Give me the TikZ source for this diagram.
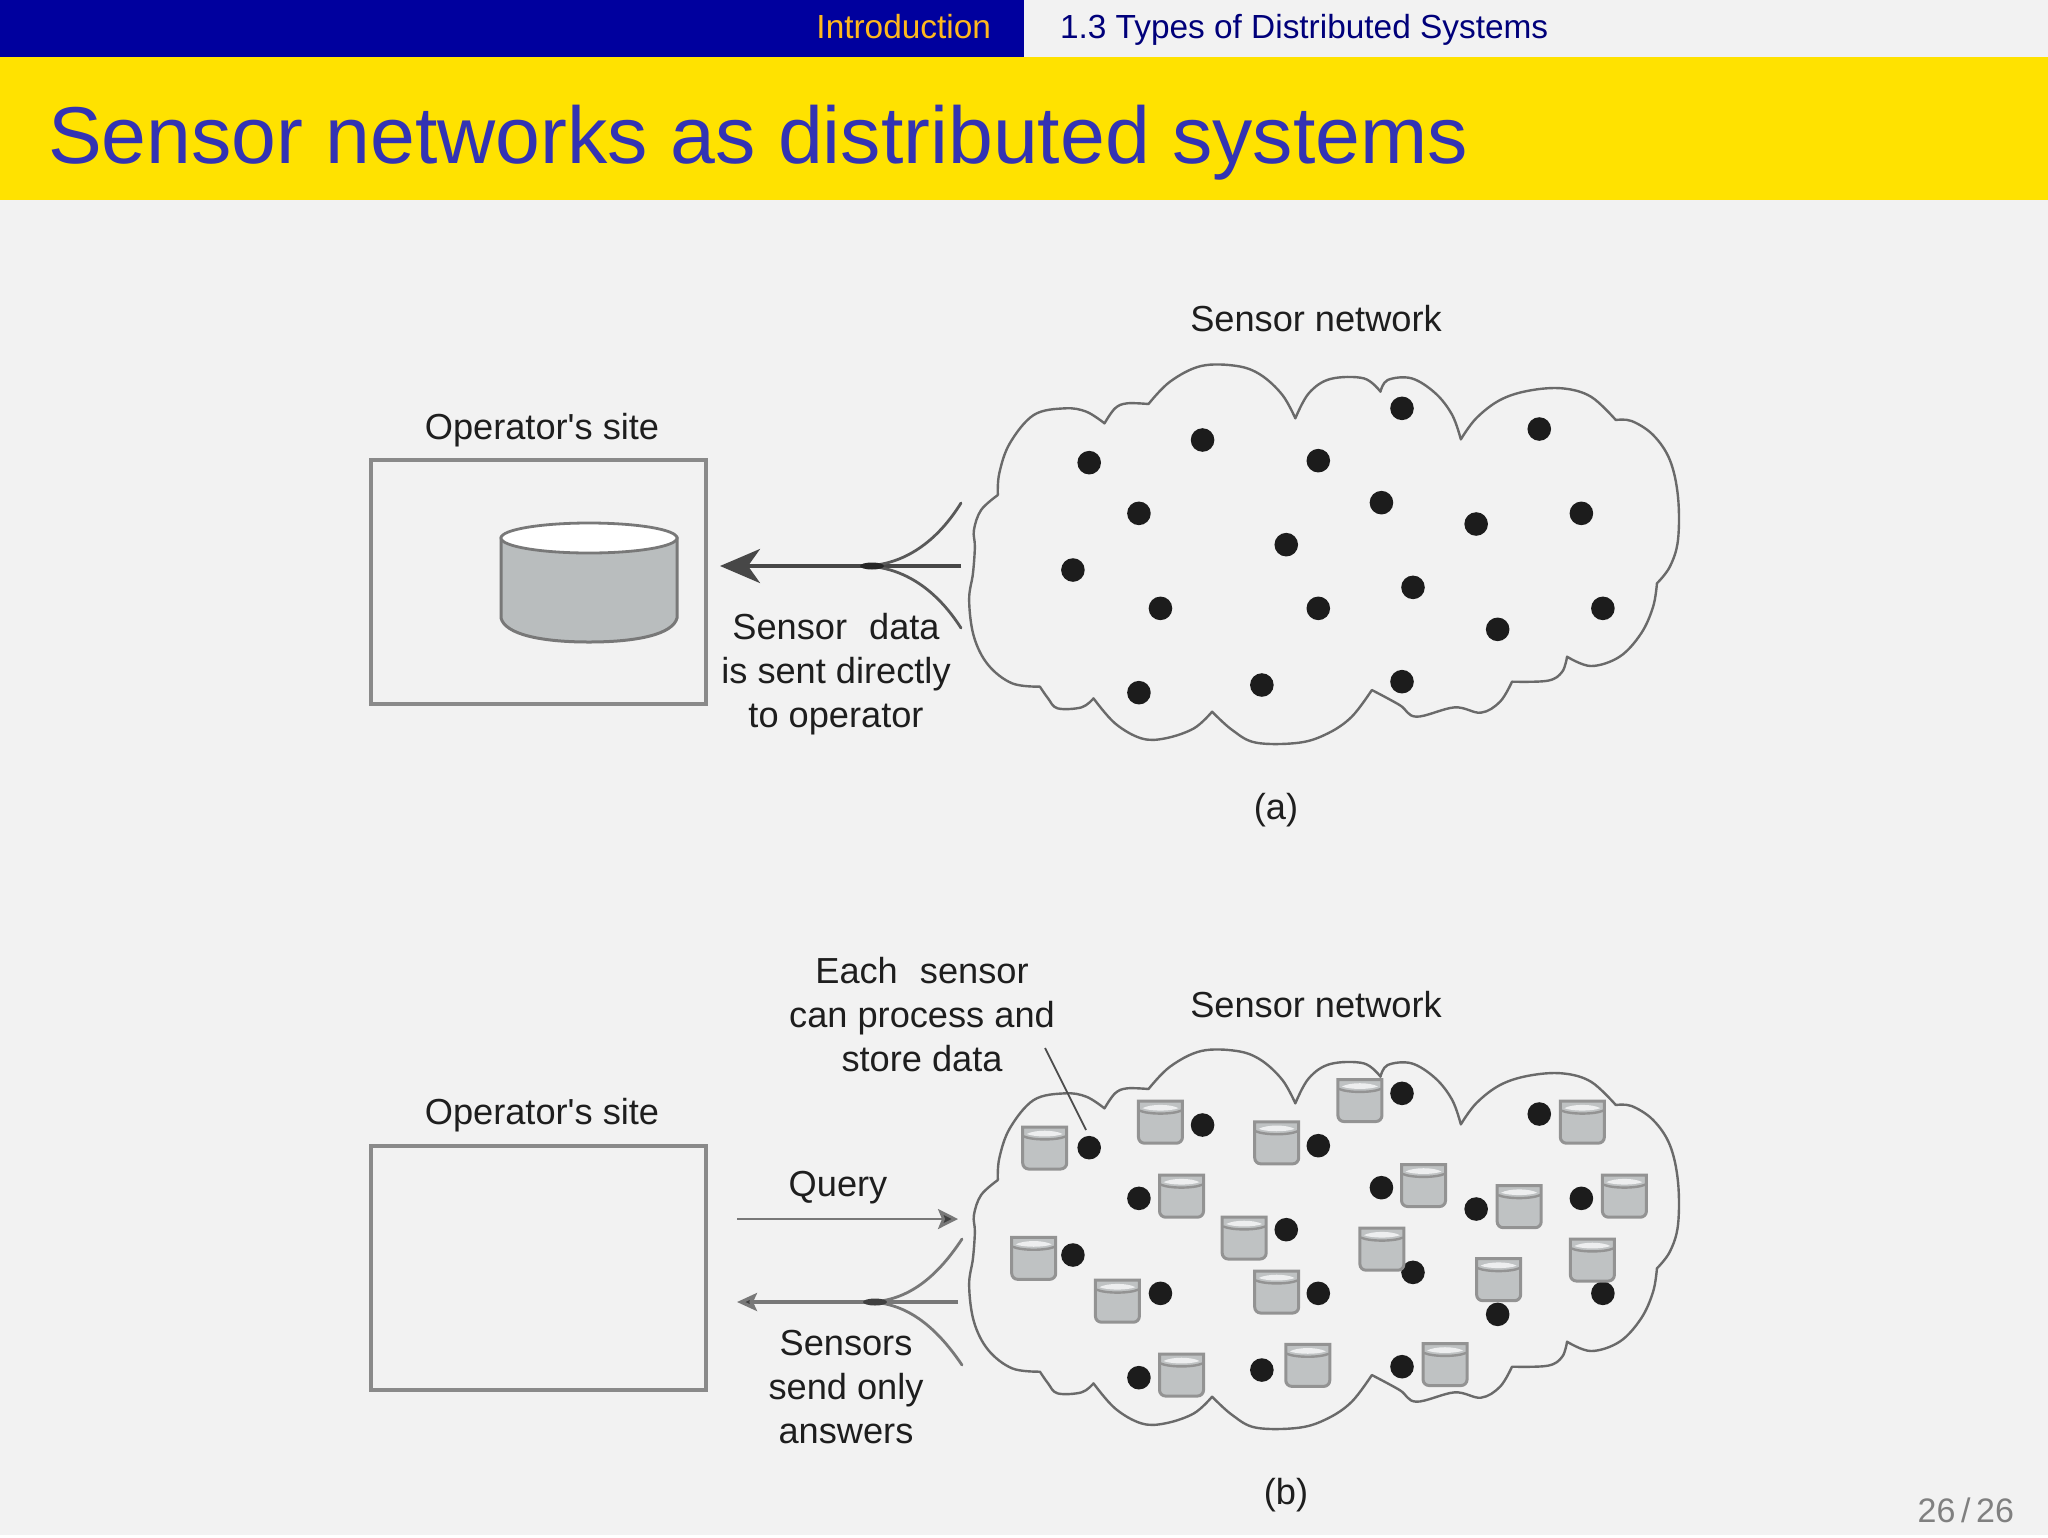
\documentclass[tikz,border=0pt]{standalone}
\usepackage{fontspec}
\setmainfont[Ligatures=TeXOff]{Liberation Sans}
\usetikzlibrary{arrows.meta}
\definecolor{pagebg}{HTML}{F2F2F2}
\definecolor{navbar}{HTML}{00009E}
\definecolor{titlebar}{HTML}{FFE200}
\definecolor{titleink}{HTML}{3333B3}
\definecolor{navink}{HTML}{FFB81C}
\definecolor{secink}{HTML}{00007A}
\definecolor{labelink}{HTML}{1E1E1E}
\definecolor{lineink}{HTML}{787878}
\definecolor{boxink}{HTML}{8A8A8A}
\definecolor{cloudink}{HTML}{6A6A6A}
\definecolor{cylside}{HTML}{B9BDBE}
\definecolor{dotink}{HTML}{1C1C1C}
\tikzset{
  every node/.style={inner sep=0pt,outer sep=0pt},
  lbl/.style={font=\fontsize{18.1}{22}\selectfont,text=labelink,align=center},
  sitebox/.style={draw=boxink,line width=1.65pt,minimum width=167.5pt,minimum height=122pt,anchor=north west},
  cloudline/.style={draw=cloudink,line width=1.2pt,line join=round,line cap=round},
  fork/.style={draw=lineink,line width=1.4pt,line cap=round},
  smallcyl/.pic={
    \path[fill=cylside!92!white,draw=lineink!80,line width=1.5pt,rounded corners=3pt]
      (-11pt,-10.5pt) -- (-11pt,7.5pt) .. controls (-11pt,10.5pt) and (11pt,10.5pt) .. (11pt,7.5pt)
      -- (11pt,-10.5pt) -- cycle;
    \path[draw=lineink!80,line width=1.2pt] (-10.5pt,5.8pt) .. controls (-6pt,3.8pt) and (6pt,3.8pt) .. (10.5pt,5.8pt);
    \path[fill=white!75!cylside] (-9pt,7pt) .. controls (-5pt,5.4pt) and (5pt,5.4pt) .. (9pt,7pt) .. controls (5pt,9.2pt) and (-5pt,9.2pt) .. (-9pt,7pt) -- cycle;
  }
}
\newcommand{\cloudpath}{%
  plot[smooth,tension=.6] coordinates {(100,465)(103,400)(125,310)(175,225)(240,205)(285,215)(323,250)}
  -- plot[smooth,tension=.6] coordinates {(323,250)(345,205)(370,190)(415,192)}
  -- plot[smooth,tension=.6] coordinates {(415,192)(460,125)(525,78)(600,78)(650,105)(695,165)(722,235)}
  -- plot[smooth,tension=.6] coordinates {(722,235)(750,160)(795,117)(865,115)(900,155)}
  -- plot[smooth,tension=.6] coordinates {(900,155)(915,120)(965,115)(1015,160)(1050,225)(1068,298)}
  -- plot[smooth,tension=.6] coordinates {(1068,298)(1100,235)(1150,180)(1210,152)(1280,145)(1340,170)(1392,240)}
  -- plot[smooth,tension=.6] coordinates {(1392,240)(1425,243)(1470,285)(1505,360)(1522,470)(1522,600)(1505,680)(1478,730)}
  -- plot[smooth,tension=.6] coordinates {(1478,730)(1470,800)(1445,880)(1400,950)(1340,978)(1290,950)}
  -- plot[smooth,tension=.6] coordinates {(1290,950)(1280,995)(1250,1022)(1175,1025)}
  -- plot[smooth,tension=.6] coordinates {(1175,1025)(1150,1085)(1110,1118)(1055,1102)(975,1130)(940,1095)(882,1050)}
  -- plot[smooth,tension=.6] coordinates {(882,1050)(840,1130)(790,1180)(730,1208)(640,1208)(590,1170)(548,1115)}
  -- plot[smooth,tension=.6] coordinates {(548,1115)(510,1165)(450,1195)(400,1195)(345,1150)(300,1075)}
  -- plot[smooth,tension=.6] coordinates {(300,1075)(275,1102)(225,1105)(205,1075)(188,1040)}
  -- plot[smooth,tension=.6] coordinates {(188,1040)(130,1030)(80,975)(50,890)(40,780)(48,700)(52,620)(50,570)(65,510)(100,465)}
}
\newcommand{\dotlist}{291/368,528/300,770/362,945/205,1232/267,395/520,902/488,1100/552,1320/520,703/614,257/690,440/805,770/805,968/742,1365/805,1145/868,395/1058,652/1035,945/1025}
\begin{document}
\begin{tikzpicture}[x=0.5pt,y=-0.5pt]
\useasboundingbox (0,0) rectangle (2048,1537);
\fill[white] (0,0) rectangle (2048,1537);
\fill[pagebg] (0,57) rectangle (2048,1535);
\fill[navbar] (0,0) rectangle (1024,57);
\fill[pagebg] (1024,0) rectangle (2048,57);
\fill[titlebar] (0,57) rectangle (2048,200);
\node[anchor=base east,text=navink,font=\fontsize{16.7}{20}\selectfont] (navsec) at (991,38) {Introduction};
\node[anchor=base west,text=secink,font=\fontsize{16.7}{20}\selectfont] (navsub) at (1060,38) {1.3 Types of Distributed Systems};
\node[anchor=base west,text=titleink,font=\fontsize{40.3}{44}\selectfont] (title) at (48,163) {Sensor networks as distributed systems};
\node[anchor=base east,text=gray,font=\fontsize{17}{20}\selectfont] (pageno) at (2014,1522) {26\,/\,26};

% --- panel (a)
\node[sitebox] (boxa) at (371,460) {};
\node[lbl] (sitea) at (542,430) {Operator's site};
\node[lbl] (neta) at (1316,319) {Sensor network};
\node[lbl] (capa) at (1276,810) {(a)};
\node[lbl] (senta) at (836,674) {Sensor\ \ \kern1pt data\\is sent directly\\to operator};
\path[fill=cylside,draw=lineink,line width=1.5pt]
  (501,538) -- (501,618) .. controls (505,634) and (540,642) .. (589,642) .. controls (638,642) and (673,634) .. (677,618) -- (677,538) -- cycle;
\path[fill=white,draw=lineink,line width=1.4pt] (589,538) ellipse[x radius=88,y radius=15];
\begin{scope}[shift={(950,340)},x=0.23915pt,y=-0.16667pt]
  \path[cloudline] \cloudpath;
  \foreach \zx/\zy in \dotlist { \fill[dotink] (\zx,\zy) circle[radius=5.9pt]; }
\end{scope}
\coordinate (joina) at (862,566);
\coordinate (enda) at (961,566);
\coordinate (upa) at (961,503);
\coordinate (lowa) at (961,628);
\coordinate (tipa) at (720,566);
\draw[draw=black!72,line width=2pt,-{Stealth[length=20pt,width=17pt,inset=6pt]}] (enda) -- (tipa);
\draw[fork,draw=black!65] (upa) .. controls (938,540) and (905,566) .. (joina);
\draw[fork,draw=black!65] (lowa) .. controls (938,592) and (905,566) .. (joina);
\fill[black!85] (joina) ++(10,0) ellipse[x radius=12,y radius=3.5];

% --- panel (b)
\node[sitebox] (boxb) at (371,1146) {};
\node[lbl] (siteb) at (542,1115) {Operator's site};
\node[lbl] (netb) at (1316,1005) {Sensor network};
\node[lbl] (capb) at (1286,1495) {(b)};
\node[lbl] (each) at (922,1015) {Each\ \ \kern1pt sensor\\can process and\\store data};
\node[lbl] (query) at (838,1188) {Query};
\node[lbl] (sens) at (846,1387) {Sensors\\send only\\answers};
\begin{scope}[shift={(950,1025)},x=0.23915pt,y=-0.16667pt]
  \path[cloudline] \cloudpath;
  \foreach \zx/\zy in \dotlist { \fill[dotink] (\zx,\zy) circle[radius=5.9pt]; }
\end{scope}
\begin{scope}[shift={(950,1030)},x=0.23915pt,y=-0.16667pt]
  \foreach \zx/\zt/\zb in {198/290/418,440/210/343,683/272/405,857/145/278,1322/210/343,484/435/562,990/400/533,1190/463/597,1410/435/562,615/560/688,903/590/725,175/620/750,350/747/880,683/720/852,1147/683/815,1343/628/752,484/970/1100,748/942/1070,1035/937/1070}
    { \pic at (\zx,{(\zt+\zb)/2}) {smallcyl}; }
\end{scope}
\coordinate (qstart) at (737,1219);
\coordinate (qend) at (958,1219);
\draw[draw=lineink,line width=1.4pt,-{Stealth[length=10pt,width=10pt,inset=2pt,fill=black!75]}] (qstart) -- (qend);
\coordinate (joinb) at (867,1302);
\coordinate (endb) at (958,1302);
\coordinate (upb) at (962,1239);
\coordinate (lowb) at (962,1365);
\coordinate (tipb) at (737,1302);
\draw[draw=lineink,line width=1.7pt,-{Stealth[length=10pt,width=9pt,inset=2pt,fill=black!75]}] (endb) -- (tipb);
\draw[fork] (upb) .. controls (935,1280) and (905,1302) .. (joinb);
\draw[fork] (lowb) .. controls (935,1325) and (905,1302) .. (joinb);
\fill[black!75] (joinb) ++(8,0) ellipse[x radius=12,y radius=3.5];
\coordinate (ptrstart) at (1045,1048);
\coordinate (ptrend) at (1086,1130);
\draw[draw=black!70,line width=.9pt] (ptrstart) -- (ptrend);
\end{tikzpicture}
\end{document}
